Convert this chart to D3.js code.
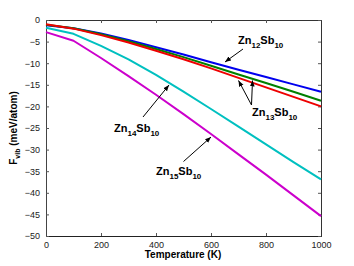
<!DOCTYPE html>
<html><head><meta charset="utf-8">
<script src="https://cdn.jsdelivr.net/npm/d3@7"></script>
<style>body{margin:0;background:#fff}svg{display:block}text{font-family:"Liberation Sans",Arial,sans-serif}</style>
</head><body>
<svg id="c" width="354" height="266"></svg>
<script>
const temps = [0,100,200,300,400,500,600,700,800,900,1000];
const zn12 = [-1.2,-1.9,-3.1,-4.6,-6.3,-8.0,-9.8,-11.5,-13.2,-14.9,-16.6];
const zn13a = [-1.1,-1.9,-3.3,-4.9,-6.7,-8.6,-10.6,-12.6,-14.6,-16.6,-18.7];
const zn13b = [-1.0,-2.0,-3.5,-5.2,-7.1,-9.1,-11.2,-13.4,-15.6,-17.8,-20.0];
const zn14 = [-1.8,-3.2,-6.0,-9.1,-12.7,-16.6,-20.6,-24.7,-28.8,-32.9,-36.9];
const zn15 = [-2.8,-4.8,-8.8,-13.0,-17.3,-21.8,-26.4,-31.1,-35.8,-40.6,-45.4];
const xTicks = [0,200,400,600,800,1000];
const yTicks = [0,-5,-10,-15,-20,-25,-30,-35,-40,-45,-50];
const seriesList = [
  {values: zn15, color: "#cc00cc"},
  {values: zn14, color: "#00c0c0"},
  {values: zn12, color: "#0000ee"},
  {values: zn13a, color: "#008000"},
  {values: zn13b, color: "#ee0000"}
];

const svg = d3.select("#c");
const L = 46, R = 321, T = 20, B = 236;
const x = d3.scaleLinear().domain([0,1000]).range([L,R]);
const y = d3.scaleLinear().domain([-50,0]).range([B,T]);

svg.append("rect").attr("x",L).attr("y",T).attr("width",R-L).attr("height",B-T)
  .attr("fill","none").attr("stroke","#555").attr("stroke-width",1).attr("shape-rendering","crispEdges");

const fmt = d => d < 0 ? "\u2212" + Math.abs(d) : String(d);
const xb = svg.append("g").attr("transform",`translate(0,${B})`)
  .call(d3.axisBottom(x).tickValues(xTicks).tickSizeInner(-3).tickSizeOuter(0).tickPadding(6).tickFormat(fmt));
const xt = svg.append("g").attr("transform",`translate(0,${T})`)
  .call(d3.axisTop(x).tickValues(xTicks).tickSizeInner(-3).tickSizeOuter(0).tickFormat(""));
const yl = svg.append("g").attr("transform",`translate(${L},0)`)
  .call(d3.axisLeft(y).tickValues(yTicks).tickSizeInner(-3).tickSizeOuter(0).tickPadding(6).tickFormat(fmt));
const yr = svg.append("g").attr("transform",`translate(${R},0)`)
  .call(d3.axisRight(y).tickValues(yTicks).tickSizeInner(-3).tickSizeOuter(0).tickFormat(""));
[xb,xt,yl,yr].forEach(g=>{
  g.select(".domain").attr("stroke","#333");
  g.selectAll(".tick line").attr("stroke","#555");
  g.selectAll("text").attr("font-size",9).attr("fill","#222").attr("font-family","Liberation Sans, Arial, sans-serif");
});
xb.select(".domain").attr("stroke","#222");
yl.select(".domain").attr("stroke","#444");

const line = d3.line().x((d,i)=>x(temps[i])).y(d=>y(d));
seriesList.forEach(s=>{
  svg.append("path").datum(s.values).attr("d",line).attr("fill","none")
    .attr("stroke",s.color).attr("stroke-width",2).attr("stroke-linejoin","round");
});

svg.append("text").attr("x",183).attr("y",258).attr("text-anchor","middle")
  .attr("font-size",10).attr("font-weight","bold").text("Temperature (K)");
const yt = svg.append("text").attr("transform","translate(17,128) rotate(-90)")
  .attr("text-anchor","middle").attr("font-size",10).attr("font-weight","bold");
yt.append("tspan").text("F");
yt.append("tspan").attr("font-size",7).attr("dy",3).text("vib");
yt.append("tspan").attr("dy",-3).text(" (meV/atom)");

function label(tx, ty, sub1) {
  const t = svg.append("text").attr("x",tx).attr("y",ty).attr("font-size",11).attr("font-weight","bold");
  t.append("tspan").text("Zn");
  t.append("tspan").attr("font-size",8).attr("dy",4).text(sub1);
  t.append("tspan").attr("dy",-4).text("Sb");
  t.append("tspan").attr("font-size",8).attr("dy",4).text("10");
}
svg.append("defs").append("marker").attr("id","ah").attr("viewBox","0 0 10 10")
  .attr("refX",10).attr("refY",5).attr("markerWidth",6).attr("markerHeight",6)
  .attr("orient","auto").attr("markerUnits","userSpaceOnUse")
  .append("path").attr("d","M0,1 L10,5 L0,9 Z").attr("fill","#000");
function arrow(x1,y1,x2,y2){
  svg.append("line").attr("x1",x1).attr("y1",y1).attr("x2",x2).attr("y2",y2)
    .attr("stroke","#000").attr("stroke-width",1).attr("marker-end","url(#ah)");
}
label(238, 44, "12"); arrow(243, 49, 225, 62);
label(252, 116, "13"); arrow(251.5, 105, 238.5, 80.5); arrow(251.5, 105, 252.5, 80.5);
label(114, 132, "14"); arrow(143, 117, 169, 85);
label(156, 175, "15"); arrow(183.5, 161.5, 211, 137);
</script>
</body></html>
